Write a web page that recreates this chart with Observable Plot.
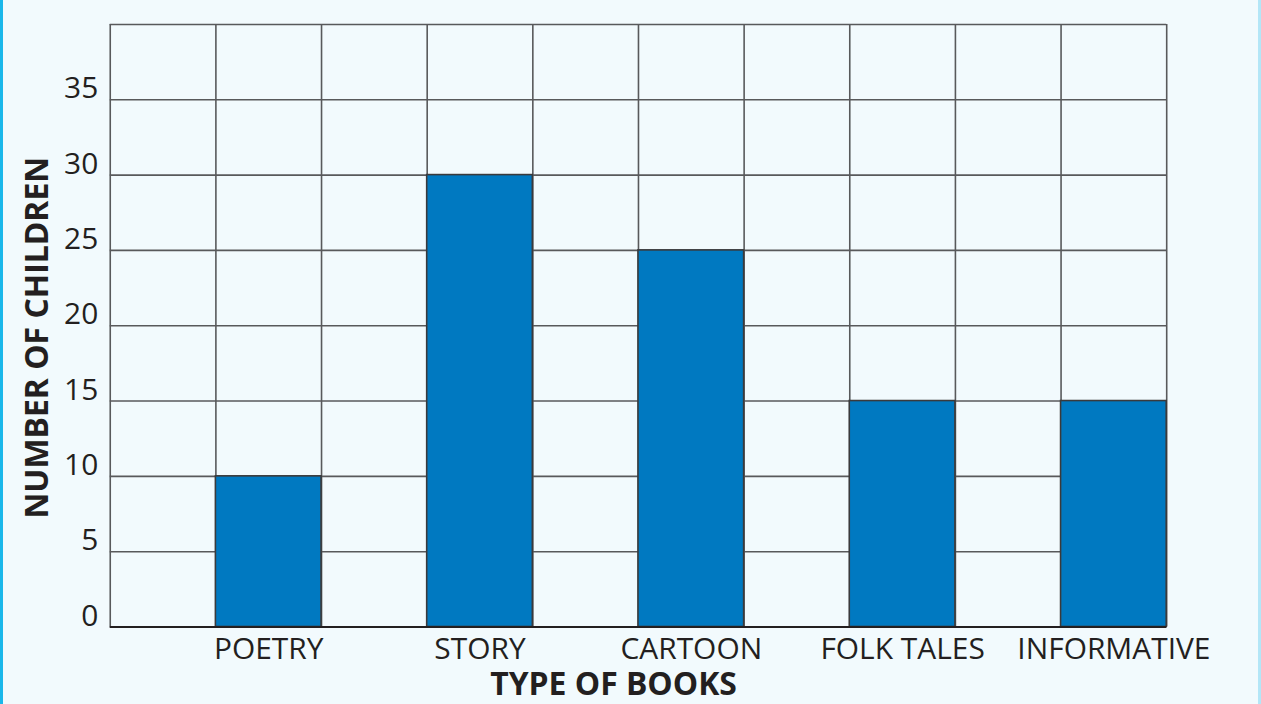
<!DOCTYPE html>
<html>
<head>
<meta charset="utf-8">
<script src="https://cdn.jsdelivr.net/npm/d3@7"></script>
<script src="https://cdn.jsdelivr.net/npm/@observablehq/plot@0.6"></script>
<style>
  html, body { margin: 0; padding: 0; }
  body {
    width: 1261px; height: 704px; overflow: hidden;
    background: #f2fafd;
    box-sizing: border-box;
    border-left: 3px solid #1ab7ea;
    border-right: 3px solid #b3e6f7;
    position: relative;
  }
  #chart { position: absolute; left: -3px; top: 0; }
  svg { font-family: "Open Sans", sans-serif; }
</style>
</head>
<body>
<div id="chart"></div>
<script>
const categories = ["POETRY", "STORY", "CARTOON", "FOLK TALES", "INFORMATIVE"];
const values = [10, 30, 25, 15, 15];
const slots = [1, 3, 5, 7, 9];          // column index (of 10) each bar occupies
const yTicks = [0, 5, 10, 15, 20, 25, 30, 35];
const yMax = 40;
const columnCount = 10;
const xTitle = "TYPE OF BOOKS";
const yTitle = "NUMBER OF CHILDREN";

const data = categories.map((c, i) => ({category: c, value: values[i], slot: slots[i]}));

const chart = Plot.plot({
  width: 1261,
  height: 704,
  marginLeft: 110,
  marginRight: 92,
  marginTop: 24,
  marginBottom: 76,
  style: {background: "transparent", fontFamily: "'Open Sans', sans-serif", color: "#231f20"},
  x: {domain: [0, columnCount], axis: null},
  y: {domain: [0, yMax], axis: null},
  marks: [
    Plot.ruleX(d3.range(0, columnCount + 1), {x: d => d, y1: 0, y2: yMax, stroke: "#58595b", strokeWidth: 1.6}),
    Plot.ruleY(d3.range(0, yMax + 5, 5), {y: d => d, x1: 0, x2: columnCount, stroke: "#58595b", strokeWidth: 1.6}),
    Plot.rect(data, {x1: "slot", x2: d => d.slot + 1, y1: 0, y2: "value", fill: "#0079c1", stroke: "#3a3a3c", strokeWidth: 1.6}),
    Plot.ruleY([0], {x1: 0, x2: columnCount, stroke: "#231f20", strokeWidth: 2.2}),
    Plot.axisY(yTicks, {tickSize: 0, tickPadding: 12, fontSize: 30, dy: -11, fill: "#231f20", label: null}),
    Plot.text(data, {x: d => d.slot + 0.5, y: 0, text: "category", fontSize: 30, dy: 11, lineAnchor: "top", fill: "#231f20"}),
    Plot.text([xTitle], {frameAnchor: "bottom", text: d => d, fontSize: 32, fontWeight: "bold", lineAnchor: "middle", dy: 58, dx: -25, fill: "#231f20"}),
    Plot.text([yTitle], {frameAnchor: "left", text: d => d, rotate: -90, textAnchor: "middle", lineAnchor: "middle", fontSize: 32, fontWeight: "bold", dx: -73, dy: 12, fill: "#231f20"})
  ]
});
document.getElementById("chart").appendChild(chart);
</script>
</body>
</html>
